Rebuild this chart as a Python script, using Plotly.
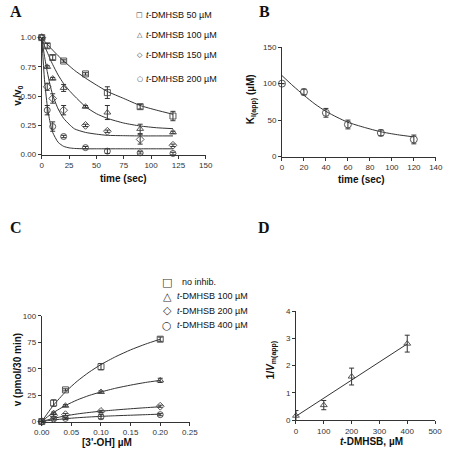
import plotly.graph_objects as go

W = H = 453
FONT = "Liberation Sans, Arial, sans-serif"
INK = "#333333"

# ---------------- Panel A data ----------------
a_time = [0, 5, 10, 20, 40, 60, 90, 120]
a_50 = [1.00, 0.93, 0.83, 0.80, 0.69, 0.53, 0.41, 0.33]
a_50_err = [0.0, 0.02, 0.02, 0.01, 0.01, 0.05, 0.02, 0.04]
a_100 = [1.00, 0.75, 0.65, 0.57, 0.41, 0.36, 0.22, 0.19]
a_100_err = [0.0, 0.01, 0.01, 0.03, 0.01, 0.06, 0.04, 0.01]
a_150 = [1.00, 0.58, 0.48, 0.38, 0.25, 0.20, 0.13, 0.08]
a_150_err = [0.0, 0.03, 0.04, 0.04, 0.01, 0.01, 0.04, 0.01]
a_200 = [1.00, 0.38, 0.24, 0.155, 0.06, 0.03, 0.015, 0.01]
a_200_err = [0.0, 0.04, 0.04, 0.01, 0.01, 0.02, 0.01, 0.01]

a_fit_t = [0, 2.5, 5, 7.5, 10, 15, 20, 25, 30, 40, 50, 60, 75, 90, 105, 120]
a_fit_50 = [1.0, 0.97, 0.945, 0.918, 0.893, 0.845, 0.80, 0.76, 0.72, 0.654, 0.595, 0.54, 0.48, 0.42, 0.38, 0.345]
a_fit_100 = [1.0, 0.93, 0.876, 0.82, 0.77, 0.68, 0.607, 0.55, 0.50, 0.41, 0.35, 0.31, 0.27, 0.245, 0.23, 0.222]
a_fit_150 = [1.0, 0.84, 0.71, 0.60, 0.51, 0.39, 0.31, 0.26, 0.22, 0.19, 0.175, 0.165, 0.162, 0.16, 0.16, 0.16]
a_fit_200 = [1.0, 0.64, 0.42, 0.28, 0.19, 0.105, 0.071, 0.058, 0.053, 0.05, 0.05, 0.05, 0.05, 0.05, 0.05, 0.05]

# ---------------- Panel B data ----------------
b_time = [0, 20, 40, 60, 90, 120]
b_ki = [100, 88.5, 60, 44, 32.5, 23.5]
b_ki_err = [0, 4, 6, 6, 4, 6]
b_fit_t = [0, 10, 20, 30, 40, 50, 60, 75, 90, 105, 120]
b_fit_ki = [111, 97, 84, 72, 62, 54, 47, 40, 34, 30, 27]

# ---------------- Panel C data ----------------
c_conc = [0, 0.02, 0.04, 0.10, 0.20]
c_none = [0, 17.5, 30, 52, 78]
c_none_err = [0, 3, 1, 3, 2]
c_100 = [0, 8, 15, 28, 39]
c_100_err = [0, 1, 1, 1, 2]
c_200 = [0, 5.6, 6.5, 9.6, 14.5]
c_200_err = [0, 1, 1, 1, 1]
c_400 = [0, 2.5, 3, 4.5, 6.5]
c_400_err = [0, 1, 1, 2, 1]

c_fit_x = [0, 0.01, 0.02, 0.04, 0.06, 0.08, 0.10, 0.125, 0.15, 0.175, 0.20]
c_fit_none = [0, 8, 15.6, 28.1, 38.3, 46.8, 54, 61.5, 67.9, 73.3, 78]
c_fit_100 = [0, 4.6, 8.6, 15.2, 20.5, 24.7, 28, 31.6, 34.5, 37, 39]
c_fit_200 = [0, 1.6, 3.0, 5.4, 7.2, 8.6, 9.8, 11.0, 12.1, 13.1, 14]
c_fit_400 = [0, 0.8, 1.5, 2.7, 3.6, 4.3, 4.9, 5.5, 6.0, 6.5, 7]

# ---------------- Panel D data ----------------
d_conc = [0, 100, 200, 400]
d_inv = [0.16, 0.55, 1.60, 2.81]
d_inv_err = [0.19, 0.17, 0.31, 0.31]
d_fit_x = [0, 400]
d_fit_y = [0.14, 2.80]

# ---------------- layout helpers ----------------
def px_x(p):
    return p / W

def px_y(p):
    return 1 - p / H

fig = go.Figure()

def axis_style(domain, rng, dtick, tickformat=None, anchor=None):
    d = dict(domain=domain, range=rng, dtick=dtick, tick0=0, showline=True,
             linecolor=INK, linewidth=1, ticks="outside", ticklen=3, tickwidth=1,
             tickcolor=INK, showgrid=False, zeroline=False,
             tickfont=dict(family=FONT, size=8, color=INK), anchor=anchor)
    if tickformat:
        d["tickformat"] = tickformat
    return d

def pts(x, y, err, sym, xa, ya, size=6):
    fig.add_trace(go.Scatter(
        x=x, y=y, mode="markers", xaxis=xa, yaxis=ya, cliponaxis=False, showlegend=False,
        marker=dict(symbol=sym, size=size, color="#444444", line=dict(color="#444444", width=0.9)),
        error_y=dict(type="data", array=err, visible=True, color=INK, thickness=1, width=2.5)))

def fit(x, y, xa, ya, shape="spline"):
    fig.add_trace(go.Scatter(
        x=x, y=y, mode="lines", xaxis=xa, yaxis=ya, showlegend=False, cliponaxis=False,
        line=dict(color=INK, width=1, shape=shape, smoothing=0.6)))

# Panel A
fit(a_fit_t, a_fit_50, "x", "y")
fit(a_fit_t, a_fit_100, "x", "y")
fit(a_fit_t, a_fit_150, "x", "y")
fit(a_fit_t, a_fit_200, "x", "y")
pts(a_time, a_50, a_50_err, "square-open", "x", "y", 6)
pts(a_time, a_100, a_100_err, "triangle-up-open", "x", "y", 6)
pts(a_time, a_150, a_150_err, "diamond-open", "x", "y", 6)
pts(a_time, a_200, a_200_err, "circle-open", "x", "y", 6)

# Panel B
fit(b_fit_t, b_fit_ki, "x2", "y2")
pts(b_time, b_ki, b_ki_err, "circle-open", "x2", "y2", 7)

# Panel C
fit(c_fit_x, c_fit_none, "x3", "y3")
fit(c_fit_x, c_fit_100, "x3", "y3")
fit(c_fit_x, c_fit_200, "x3", "y3")
fit(c_fit_x, c_fit_400, "x3", "y3")
pts(c_conc, c_none, c_none_err, "square-open", "x3", "y3", 6)
pts(c_conc, c_100, c_100_err, "triangle-up-open", "x3", "y3", 6)
pts(c_conc, c_200, c_200_err, "diamond-open", "x3", "y3", 6)
pts(c_conc, c_400, c_400_err, "circle-open", "x3", "y3", 6)

# Panel D
fit(d_fit_x, d_fit_y, "x4", "y4", shape="linear")
pts(d_conc, d_inv, d_inv_err, "triangle-up-open", "x4", "y4", 6)

fig.update_layout(
    width=W, height=H, margin=dict(l=0, r=0, t=0, b=0),
    paper_bgcolor="white", plot_bgcolor="white", showlegend=False,
    font=dict(family=FONT, size=9, color="#111"),
    xaxis=axis_style([px_x(35), px_x(205)], [0, 150], 25, anchor="y"),
    yaxis=axis_style([px_y(153.7), px_y(34.3)], [0, 1], 0.25, ".2f", anchor="x"),
    xaxis2=axis_style([px_x(284), px_x(443.5)], [0, 140], 20, anchor="y2"),
    yaxis2=axis_style([px_y(155.7), px_y(44)], [0, 150], 50, anchor="x2"),
    xaxis3=axis_style([px_x(35), px_x(188.5)], [0, 0.25], 0.05, ".2f", anchor="y3"),
    yaxis3=axis_style([px_y(426), px_y(318.3)], [0, 100], 25, anchor="x3"),
    xaxis4=axis_style([px_x(298.5), px_x(442.7)], [0, 500], 100, anchor="y4"),
    yaxis4=axis_style([px_y(424.5), px_y(313.5)], [0, 4], 1, anchor="x4"),
)

def ann(text, x, y, size=9, angle=0, xanchor="center", family=FONT, color="#111"):
    fig.add_annotation(text=text, x=px_x(x), y=px_y(y), xref="paper", yref="paper",
                       showarrow=False, xanchor=xanchor, yanchor="middle", textangle=angle,
                       font=dict(family=family, size=size, color=color))

SERIF = "Liberation Serif, Times New Roman, serif"
ann("<b>A</b>", 8, 8, 16, family=SERIF)
ann("<b>B</b>", 266, 8, 16, family=SERIF)
ann("<b>C</b>", 8, 228, 16, family=SERIF)
ann("<b>D</b>", 265, 228, 16, family=SERIF)

# axis titles
ann("<b>v<sub>t</sub>/v<sub>0</sub></b>", 10, 94, 10, angle=-90)
ann("<b>time (sec)</b>", 120, 178, 10)
ann("<b>K<sub>I(app)</sub> (µM)</b>", 252, 97, 10, angle=-90)
ann("<b>time (sec)</b>", 366, 179, 10)
ann("<b>v (pmol/30 min)</b>", 10, 373, 10, angle=-90)
ann("<b>[3'-OH] µM</b>", 103, 447, 10)
ann("<b>1/<i>V</i><sub>m(app)</sub></b>", 273, 363, 10, angle=-90)
ann("<b><i>t</i>-DMHSB, µM</b>", 377, 446, 10)

# legend A
leg_a_labels = ["<i>t</i>-DMHSB 50 µM", "<i>t</i>-DMHSB 100 µM",
                "<i>t</i>-DMHSB 150 µM", "<i>t</i>-DMHSB 200 µM"]
leg_a_syms = ["□", "△", "◇", "○"]
for lab, sym, yy in zip(leg_a_labels, leg_a_syms, [11, 31.5, 52.5, 76.5]):
    ann(sym, 136.5, yy, 7, family="DejaVu Sans", color=INK)
    ann(lab, 141, yy, 9, xanchor="left")

# legend C
leg_c_labels = ["  no inhib.", "<i>t</i>-DMHSB 100 µM",
                "<i>t</i>-DMHSB 200 µM", "<i>t</i>-DMHSB 400 µM"]
leg_c_syms = ["□", "△", "◇", "○"]
for lab, sym, yy in zip(leg_c_labels, leg_c_syms, [284, 298, 313, 328]):
    ann(sym, 165, yy, 11, family="DejaVu Sans", color=INK)
    ann(lab, 173, yy, 9, xanchor="left")

fig.write_html("out.html", config={"displayModeBar": False},
               post_script="document.body.style.margin='0';document.body.style.padding='0';")
